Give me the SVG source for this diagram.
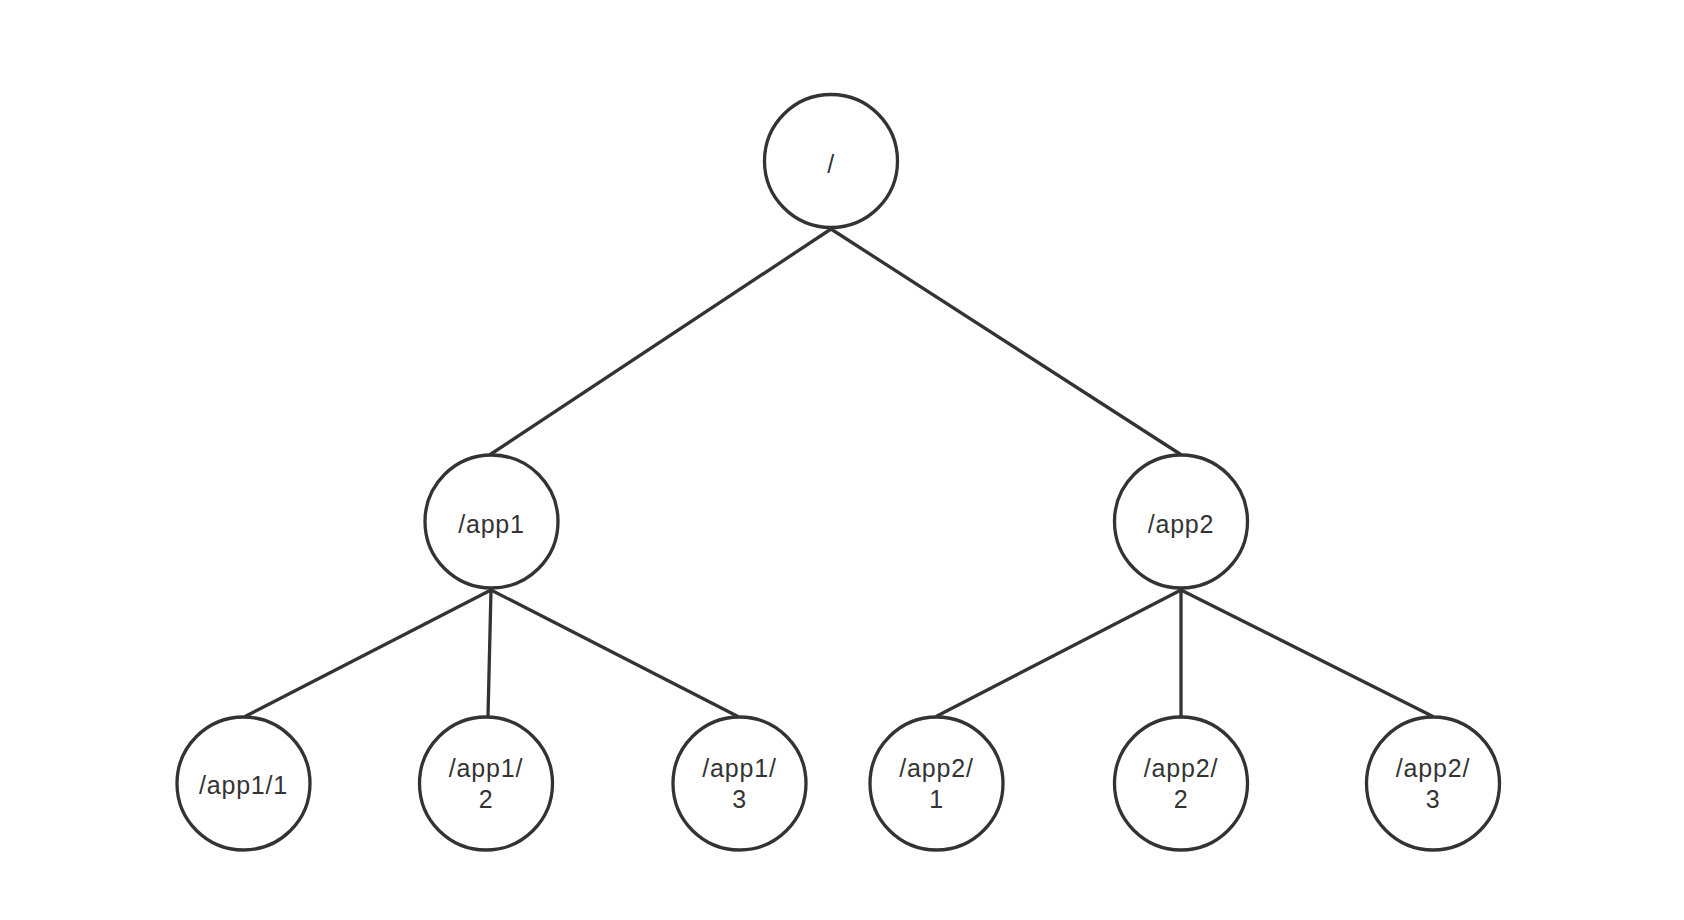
<svg xmlns="http://www.w3.org/2000/svg" width="1684" height="920" viewBox="0 0 1684 920">
<style>
.n circle{fill:#fff;stroke:#333;stroke-width:3.3}
.n text{font-family:"Liberation Sans","Helvetica",Arial,sans-serif;font-size:25px;letter-spacing:0.8px;fill:#333;text-anchor:middle}
#edges line{stroke:#333;stroke-width:3.3;stroke-linecap:round}
</style>
<rect width="1684" height="920" fill="#fff"/>
<g id="edges">
<line x1="831" y1="229" x2="491" y2="454"/>
<line x1="831" y1="229" x2="1180" y2="454"/>
<line x1="491" y1="590" x2="246" y2="716"/>
<line x1="491" y1="590" x2="488" y2="716"/>
<line x1="491" y1="590" x2="737" y2="716"/>
<line x1="1181" y1="590" x2="937" y2="716"/>
<line x1="1181" y1="590" x2="1181" y2="716"/>
<line x1="1181" y1="590" x2="1432" y2="716"/>
</g>
<g id="root" class="n"><circle cx="831" cy="161" r="66.5"/><text x="831" y="173">/</text></g>
<g id="app1" class="n"><circle cx="491.5" cy="521.5" r="66.5"/><text x="491.5" y="533">/app1</text></g>
<g id="app2" class="n"><circle cx="1181" cy="521.5" r="66.5"/><text x="1181" y="533">/app2</text></g>
<g id="app1-1" class="n"><circle cx="243.5" cy="783.5" r="66.5"/><text x="243.5" y="794">/app1/1</text></g>
<g id="app1-2" class="n"><circle cx="486" cy="783.5" r="66.5"/><text x="486" y="777">/app1/</text><text x="486" y="808">2</text></g>
<g id="app1-3" class="n"><circle cx="739.5" cy="783.5" r="66.5"/><text x="739.5" y="777">/app1/</text><text x="739.5" y="808">3</text></g>
<g id="app2-1" class="n"><circle cx="936.5" cy="783.5" r="66.5"/><text x="936.5" y="777">/app2/</text><text x="936.5" y="808">1</text></g>
<g id="app2-2" class="n"><circle cx="1181" cy="783.5" r="66.5"/><text x="1181" y="777">/app2/</text><text x="1181" y="808">2</text></g>
<g id="app2-3" class="n"><circle cx="1433" cy="783.5" r="66.5"/><text x="1433" y="777">/app2/</text><text x="1433" y="808">3</text></g>
</svg>
